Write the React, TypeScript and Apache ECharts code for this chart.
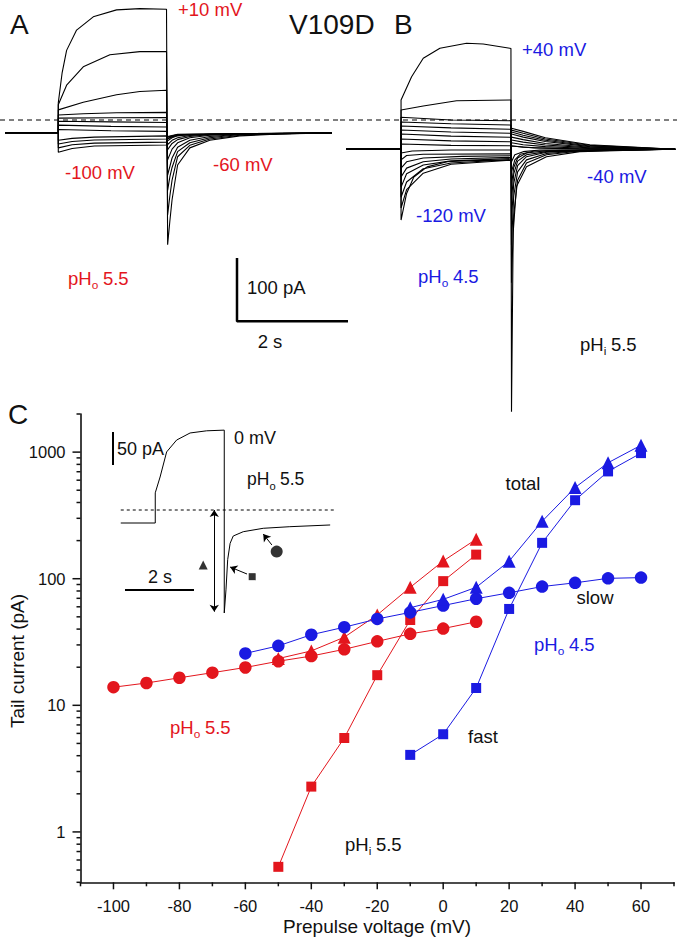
import React, { useEffect, useRef } from 'react';
import * as echarts from 'echarts';

const FONT = '"Liberation Sans", Arial, Helvetica, sans-serif';
const RED = '#e3161d';
const BLUE = '#1a1ae2';
const INK = '#111111';

// ---------------- Panel C : tail currents (pA) vs prepulse voltage (mV) ----------------
const voltsRedSlow = [-100, -90, -80, -70, -60, -50, -40, -30, -20, -10, 0, 10];
const redSlow = [13.9, 15.0, 16.5, 18.1, 19.9, 22.3, 24.5, 27.7, 32.0, 36.7, 40.4, 45.7];
const voltsRed = [-50, -40, -30, -20, -10, 0, 10];
const redTotal = [23.4, 26.9, 34.5, 51.8, 85.5, 138, 205];
const redFast = [0.53, 2.28, 5.52, 17.3, 47.2, 95.7, 155];
const voltsBlueSlow = [-60, -50, -40, -30, -20, -10, 0, 10, 20, 30, 40, 50, 60];
const blueSlow = [25.7, 29.5, 36.1, 41.4, 48.1, 54.2, 61.4, 69.5, 77.4, 86.7, 92.8, 100.7, 102];
const voltsBlue = [-10, 0, 10, 20, 30, 40, 50, 60];
const blueTotal = [59, 68.7, 85.5, 137.6, 284, 525, 824, 1133];
const blueFast = [4.06, 5.91, 13.7, 57.7, 192, 417, 704, 982];

const xTickLabels = [-100, -80, -60, -40, -20, 0, 20, 40, 60];
const xMinorTicks = [-110, -90, -70, -50, -30, -10, 10, 30, 50, 70];
const yTickLabels = [1, 10, 100, 1000];
const yMinorTicks = [0.4, 0.5, 0.6, 0.7, 0.8, 0.9, 2, 3, 4, 5, 6, 7, 8, 9, 20, 30, 40, 50, 60, 70, 80, 90,
  200, 300, 400, 500, 600, 700, 800, 900, 2000];

// ---------------- Panel A traces: [time (s), current (pA)] ----------------
const traceA_p10 = [[0.09, -20], [1.05, -20], [1.05, 27], [1.12, 75], [1.2, 110], [1.38, 142], [1.68, 163], [2.1, 174], [2.52, 176], [3.0, 175], [3.02, -197], [3.06, -160], [3.1, -126], [3.2, -71], [3.42, -44], [3.78, -32], [4.32, -25], [5.05, -22], [5.98, -20.5]];
const traceA_0 = [[0.09, -20], [1.05, -20], [1.05, 24], [1.2, 55], [1.5, 84], [1.98, 103], [2.52, 108], [3.0, 108], [3.02, -150], [3.06, -120], [3.1, -95], [3.2, -58], [3.42, -40], [3.78, -30], [4.32, -24], [5.05, -21.5], [5.98, -20.5]];
const traceA_m10 = [[0.09, -20], [1.05, -20], [1.05, 16], [1.5, 28], [2.1, 40], [2.52, 45], [3.0, 47], [3.02, -111], [3.06, -90], [3.1, -75], [3.2, -50], [3.42, -36], [3.78, -28], [4.32, -23], [5.05, -21], [5.98, -20.5]];
const traceA_m20 = [[0.09, -20], [1.05, -20], [1.05, 8], [1.5, 10], [2.1, 11.5], [3.0, 12], [3.02, -87], [3.1, -60], [3.2, -43], [3.42, -32], [3.78, -26], [4.32, -22.5], [5.98, -20.5]];
const traceA_m30 = [[0.09, -20], [1.05, -20], [1.05, 3], [2.0, 3.5], [3.0, 4], [3.02, -63], [3.1, -46], [3.2, -36], [3.42, -28], [3.78, -24], [4.32, -21.5], [5.98, -20.5]];
const traceA_m40 = [[0.09, -20], [1.05, -20], [1.05, -2], [2.0, -3], [3.0, -4], [3.02, -47], [3.1, -37], [3.2, -31], [3.42, -26], [3.78, -23], [5.98, -20.5]];
const traceA_m50 = [[0.09, -20], [1.05, -20], [1.05, -8], [2.0, -10], [3.0, -11], [3.02, -39], [3.1, -32], [3.2, -28], [3.42, -24.5], [3.78, -22], [5.98, -20.5]];
const traceA_m60 = [[0.09, -20], [1.05, -20], [1.05, -15], [2.0, -17], [3.0, -18], [3.02, -33], [3.1, -28], [3.2, -25], [3.42, -23], [5.98, -20.5]];
const traceA_m70 = [[0.09, -20], [1.05, -20], [1.05, -32], [1.3, -29], [1.7, -27], [3.0, -25], [3.02, -30], [3.1, -26], [3.3, -23], [5.98, -20.5]];
const traceA_m80 = [[0.09, -20], [1.05, -20], [1.05, -38], [1.3, -34], [1.7, -31.5], [3.0, -30], [3.02, -29], [3.2, -24], [5.98, -20.5]];
const traceA_m90 = [[0.09, -20], [1.05, -20], [1.05, -44], [1.3, -39], [1.7, -36.5], [3.0, -35], [3.02, -27], [3.2, -23], [5.98, -20.5]];
const traceA_m100 = [[0.09, -20], [1.05, -20], [1.05, -51], [1.3, -45], [1.7, -41], [3.0, -39.5], [3.02, -26], [3.2, -22.5], [5.98, -20.5]];
const tracesA = [traceA_p10, traceA_0, traceA_m10, traceA_m20, traceA_m30, traceA_m40, traceA_m50, traceA_m60, traceA_m70, traceA_m80, traceA_m90, traceA_m100];

// ---------------- Panel B traces: [time (s), current (pA)] ----------------
const traceB_p40 = [[0.11, -46.3], [1.1, -46.3], [1.1, 31.6], [1.29, 68.4], [1.5, 97.5], [1.8, 113.3], [2.28, 121.2], [2.58, 120], [3.06, 113.3], [3.08, 113], [3.09, -461], [3.12, -178.5], [3.18, -105], [3.36, -74], [3.72, -58], [4.32, -50], [5.41, -47.4], [6.04, -46.3]];
const traceB_p30 = [[0.11, -46.3], [1.1, -46.3], [1.1, 15.8], [1.5, 22.1], [2.1, 30.5], [3.08, 31.6], [3.09, -257], [3.13, -150], [3.2, -95], [3.36, -68], [3.72, -55], [4.32, -49], [5.41, -47], [6.04, -46.3]];
const traceB_p20 = [[0.11, -46.3], [1.1, -46.3], [1.1, 4.3], [2.0, 0], [3.08, -1.1], [3.09, -197], [3.13, -120], [3.2, -82], [3.36, -63], [3.72, -53], [4.32, -48.5], [6.04, -46.3]];
const traceB_p10 = [[0.11, -46.3], [1.1, -46.3], [1.1, -3.2], [2.0, -6], [3.08, -7.9], [3.09, -158], [3.13, -100], [3.2, -72], [3.36, -58], [3.72, -51], [4.32, -48], [6.04, -46.3]];
const traceB_0 = [[0.11, -46.3], [1.1, -46.3], [1.1, -9.5], [2.0, -12.5], [3.08, -14.7], [3.09, -126], [3.13, -85], [3.2, -65], [3.36, -55], [3.72, -50], [6.04, -46.3]];
const traceB_m10 = [[0.11, -46.3], [1.1, -46.3], [1.1, -15.8], [2.0, -19], [3.08, -21], [3.09, -103], [3.13, -75], [3.2, -60], [3.36, -52], [3.72, -48.5], [6.04, -46.3]];
const traceB_m20 = [[0.11, -46.3], [1.1, -46.3], [1.1, -22], [2.0, -25.5], [3.08, -27.3], [3.09, -82], [3.15, -63], [3.25, -54], [3.5, -49], [6.04, -46.3]];
const traceB_m30 = [[0.11, -46.3], [1.1, -46.3], [1.1, -30], [2.0, -33], [3.08, -34.3], [3.09, -66], [3.15, -55], [3.3, -50], [3.6, -47.5], [6.04, -46.3]];
const traceB_m40 = [[0.11, -46.3], [1.1, -46.3], [1.1, -38], [2.0, -40], [3.08, -40.6], [3.3, -43], [4.0, -45.5], [6.04, -46.3]];
const traceB_m50 = [[0.11, -46.3], [1.1, -46.3], [1.1, -52], [1.3, -49], [2.0, -47.5], [3.08, -47.4], [3.09, -41], [3.5, -44], [4.3, -45.5], [6.04, -46.3]];
const traceB_m60 = [[0.11, -46.3], [1.1, -46.3], [1.1, -63], [1.2, -56], [1.5, -54], [3.08, -53.5], [3.09, -36], [3.3, -39], [3.7, -42], [4.5, -45], [6.04, -46.3]];
const traceB_m70 = [[0.11, -46.3], [1.1, -46.3], [1.1, -76], [1.2, -66], [1.5, -60], [2.2, -57.5], [3.08, -56.5], [3.09, -31.5], [3.3, -35], [3.7, -39.5], [4.5, -44], [6.04, -46.3]];
const traceB_m80 = [[0.11, -46.3], [1.1, -46.3], [1.1, -90], [1.2, -76], [1.5, -66], [2.0, -61.5], [3.08, -59], [3.09, -27], [3.3, -31], [3.7, -37], [4.5, -43], [6.04, -46.3]];
const traceB_m90 = [[0.11, -46.3], [1.1, -46.3], [1.1, -106], [1.2, -85], [1.5, -71], [2.0, -64.5], [3.08, -61], [3.09, -22], [3.3, -27], [3.7, -34], [4.5, -42], [6.04, -46.3]];
const traceB_m100 = [[0.11, -46.3], [1.1, -46.3], [1.1, -122], [1.2, -98], [1.5, -77], [2.0, -68], [3.08, -62.5], [3.09, -19], [3.3, -24], [3.7, -32], [4.5, -41], [6.04, -46.3]];
const traceB_m110 = [[0.11, -46.3], [1.1, -46.3], [1.1, -139], [1.2, -110], [1.5, -84], [2.0, -70], [3.08, -63.5], [3.09, -16], [3.3, -21], [3.7, -30], [4.5, -40], [6.04, -46.3]];
const traceB_m120 = [[0.11, -46.3], [1.1, -46.3], [1.1, -158], [1.2, -116], [1.33, -90], [1.57, -74], [1.93, -66], [2.41, -64], [3.08, -64], [3.09, -13], [3.3, -18], [3.7, -28], [4.5, -39], [6.04, -46.3]];
const tracesB = [traceB_p40, traceB_p30, traceB_p20, traceB_p10, traceB_0, traceB_m10, traceB_m20, traceB_m30, traceB_m40,
  traceB_m50, traceB_m60, traceB_m70, traceB_m80, traceB_m90, traceB_m100, traceB_m110, traceB_m120];

// zero-current reference lines and scale bars (s, pA)
const zeroA = [[0, 0], [6.126, 0]];
const zeroB = [[0, 0], [6.072, 0]];
const scaleBarA = [[4.27, -218], [4.27, -318], [6.27, -318]];

// ---------------- Panel C inset trace (0 mV prepulse) ----------------
const insetTrace = [[0.1, -19.7], [1.1, -19.7], [1.1, 26], [1.24, 50], [1.43, 88], [1.72, 106], [2.11, 116.7], [2.59, 120], [3.1, 121],
  [3.1, -156], [3.15, -121], [3.2, -75], [3.27, -50.5], [3.36, -39.4], [3.65, -32.9], [4.23, -27.7], [5.0, -25.3], [6.17, -22.7]];
const insetZero = [[0.1, 0], [6.34, 0]];
const insetBarV = [[-0.125, 118.2], [-0.125, 68.2]];
const insetBarH = [[0.223, -121.2], [2.223, -121.2]];
const insetTriangle = [[2.49, -83.3]];
const insetSquare = [[3.91, -101]];
const insetCircle = [[4.62, -63]];
const arrowTotal = [[2.81, 0], [2.81, -154]];
const arrowFast = [[3.76, -97], [3.27, -86.4]];
const arrowSlow = [[4.48, -53], [4.23, -36.4]];

const zip = (xs: number[], ys: number[]) => xs.map((x, i) => [x, ys[i]]);

function txt(text: string, x: number, y: number, size: number, color = INK, align = 'left', extra: any = {}) {
  return {
    type: 'text', x, y, silent: true, ...extra,
    style: {
      text, fill: color, font: `${size}px ${FONT}`,
      textAlign: align, textVerticalAlign: 'middle', align, verticalAlign: 'middle',
    },
  };
}

function ph(x: number, y: number, sub: string, val: string, color: string, size = 18.5) {
  const subSize = size * 0.64;
  const subW = (sub === 'i' ? 0.222 : 0.556) * subSize;
  return {
    type: 'group', silent: true,
    children: [
      txt('pH', x, y, size, color),
      txt(sub, x + 1.29 * size, y + 0.4 * size, subSize, color),
      txt(val, x + 1.29 * size + subW + 0.24 * size, y, size, color),
    ],
  };
}

function markerSeries(xs: number[], ys: number[], color: string, symbol: string, size: number) {
  return {
    type: 'line', xAxisIndex: 0, yAxisIndex: 0, data: zip(xs, ys), symbol, symbolSize: size,
    itemStyle: { color, borderWidth: 0 }, lineStyle: { color, width: 1 }, silent: true, z: 3,
  };
}

function traceSeries(data: number[][], idx: number, width = 1.1) {
  return {
    type: 'line', xAxisIndex: idx, yAxisIndex: idx, data, symbol: 'none', silent: true,
    lineStyle: { color: '#000', width }, z: 2,
  };
}

function tickSeries(values: number[], horizontal: boolean, len: number) {
  return {
    type: 'custom', xAxisIndex: 0, yAxisIndex: 0, silent: true, clip: false, z: 4,
    data: values.map((v) => (horizontal ? [v, 0.4] : [-110, v])),
    encode: { x: 0, y: 1 },
    renderItem: (_p: any, api: any) => {
      const pt = api.coord([api.value(0), api.value(1)]);
      const shape = horizontal
        ? { x1: pt[0], y1: pt[1], x2: pt[0], y2: pt[1] + len }
        : { x1: pt[0] - len, y1: pt[1], x2: pt[0], y2: pt[1] };
      return { type: 'line', shape, style: { stroke: INK, lineWidth: 1.5 } };
    },
  };
}

export default function App() {
  const ref = useRef<HTMLDivElement>(null);
  useEffect(() => {
    if (!ref.current) return;
    const chart = echarts.init(ref.current, undefined, { renderer: 'svg' });
    const hidden = { show: false };
    const option: any = {
      animation: false,
      backgroundColor: '#ffffff',
      grid: [
        { left: 80.5, top: 414, width: 593.5, height: 468.3 },
        { left: 0, top: 6.06, width: 360, height: 329.2 },
        { left: 340, top: 6.06, width: 337, height: 417.8 },
        { left: 110.4, top: 424.2, width: 227.7, height: 198 },
      ],
      xAxis: [
        {
          gridIndex: 0, type: 'value', min: -110, max: 70, interval: 10,
          axisLine: { show: true, onZero: false, lineStyle: { color: INK, width: 1.6 } },
          axisTick: hidden, splitLine: hidden,
          axisLabel: {
            margin: 15, fontSize: 16.5, color: INK, fontFamily: FONT,
            formatter: (v: number) => (xTickLabels.includes(Math.round(v)) ? String(Math.round(v)) : ''),
          },
        },
        { gridIndex: 1, type: 'value', min: 0, max: 6.486, show: false },
        { gridIndex: 2, type: 'value', min: 0, max: 6.072, show: false },
        { gridIndex: 3, type: 'value', min: -0.2, max: 6.4, show: false },
      ],
      yAxis: [
        {
          gridIndex: 0, type: 'log', logBase: 10, min: 0.4, max: 2000,
          axisLine: { show: true, onZero: false, lineStyle: { color: INK, width: 1.6 } },
          axisTick: hidden, splitLine: hidden, minorTick: hidden, minorSplitLine: hidden,
          axisLabel: {
            margin: 15, fontSize: 16.5, color: INK, fontFamily: FONT,
            formatter: (v: number) => {
              const r = Math.round(v);
              return yTickLabels.includes(r) && Math.abs(v - r) < 1e-6 * Math.max(1, r) ? String(r) : '';
            },
          },
        },
        { gridIndex: 1, type: 'value', min: -340, max: 180, show: false },
        { gridIndex: 2, type: 'value', min: -480, max: 180, show: false },
        { gridIndex: 3, type: 'value', min: -170, max: 130, show: false },
      ],
      series: [
        // Panel A
        ...tracesA.map((d) => traceSeries(d, 1)),
        { type: 'line', xAxisIndex: 1, yAxisIndex: 1, data: zeroA, symbol: 'none', silent: true, lineStyle: { color: '#000', width: 1, type: [5, 4] } },
        { type: 'line', xAxisIndex: 1, yAxisIndex: 1, data: scaleBarA, symbol: 'none', silent: true, clip: false, lineStyle: { color: '#000', width: 2.5 } },
        // Panel B
        ...tracesB.map((d) => traceSeries(d, 2)),
        { type: 'line', xAxisIndex: 2, yAxisIndex: 2, data: zeroB, symbol: 'none', silent: true, lineStyle: { color: '#000', width: 1, type: [5, 4] } },
        // Panel C inset
        {
          type: 'line', xAxisIndex: 3, yAxisIndex: 3, data: insetTrace, symbol: 'none', silent: true,
          lineStyle: { color: '#000', width: 1 },
          markLine: {
            silent: true, symbolSize: 7, label: { show: false }, emphasis: { disabled: true },
            lineStyle: { color: '#000', width: 1, type: 'solid' },
            data: [
              [{ coord: arrowTotal[0], symbol: 'arrow' }, { coord: arrowTotal[1], symbol: 'arrow' }],
              [{ coord: arrowFast[0], symbol: 'none' }, { coord: arrowFast[1], symbol: 'arrow' }],
              [{ coord: arrowSlow[0], symbol: 'none' }, { coord: arrowSlow[1], symbol: 'arrow' }],
            ],
          },
        },
        { type: 'line', xAxisIndex: 3, yAxisIndex: 3, data: insetZero, symbol: 'none', silent: true, lineStyle: { color: '#000', width: 1, type: [3, 3] } },
        { type: 'line', xAxisIndex: 3, yAxisIndex: 3, data: insetBarV, symbol: 'none', silent: true, clip: false, lineStyle: { color: '#000', width: 2 } },
        { type: 'line', xAxisIndex: 3, yAxisIndex: 3, data: insetBarH, symbol: 'none', silent: true, clip: false, lineStyle: { color: '#000', width: 2 } },
        { type: 'scatter', xAxisIndex: 3, yAxisIndex: 3, data: insetTriangle, symbol: 'triangle', symbolSize: 9, itemStyle: { color: '#000' }, silent: true },
        { type: 'scatter', xAxisIndex: 3, yAxisIndex: 3, data: insetSquare, symbol: 'rect', symbolSize: 7, itemStyle: { color: '#000' }, silent: true },
        { type: 'scatter', xAxisIndex: 3, yAxisIndex: 3, data: insetCircle, symbol: 'circle', symbolSize: 12, itemStyle: { color: '#000' }, silent: true },
        // Panel C axis ticks
        tickSeries(xTickLabels, true, 7),
        tickSeries(xMinorTicks, true, 4),
        tickSeries(yTickLabels, false, 8),
        tickSeries(yMinorTicks, false, 4),
        // Panel C data
        markerSeries(voltsRedSlow, redSlow, RED, 'circle', 12.5),
        markerSeries(voltsRed, redTotal, RED, 'triangle', 13),
        markerSeries(voltsRed, redFast, RED, 'rect', 10),
        markerSeries(voltsBlueSlow, blueSlow, BLUE, 'circle', 12.5),
        markerSeries(voltsBlue, blueTotal, BLUE, 'triangle', 13),
        markerSeries(voltsBlue, blueFast, BLUE, 'rect', 10),
      ],
      graphic: {
        elements: [
          txt('A', 10, 24, 28),
          txt('V109D', 289, 24, 28),
          txt('B', 394, 24, 28),
          txt('C', 8, 414, 28),
          txt('+10 mV', 178, 9, 18.5, RED),
          txt('-100 mV', 65, 172, 18.5, RED),
          txt('-60 mV', 213, 164, 18.5, RED),
          ph(68, 278, 'o', '5.5', RED),
          txt('100 pA', 247, 287, 18.5),
          txt('2 s', 270, 341, 18.5, INK, 'center'),
          txt('+40 mV', 522, 49, 18.5, BLUE),
          txt('-40 mV', 587, 176, 18.5, BLUE),
          txt('-120 mV', 416, 215, 18.5, BLUE),
          ph(418, 276, 'o', '4.5', BLUE),
          ph(580, 344, 'i', '5.5', INK),
          // panel C annotations
          txt('total', 523, 483, 18.5, INK, 'center'),
          txt('slow', 595, 597, 18.5, INK, 'center'),
          txt('fast', 483, 736, 18.5, INK, 'center'),
          ph(170, 727, 'o', '5.5', RED),
          ph(534, 644, 'o', '4.5', BLUE),
          ph(345, 844, 'i', '5.5', INK),
          // inset
          txt('0 mV', 234, 438, 18),
          txt('50 pA', 117, 449, 18),
          txt('2 s', 160, 577, 18, INK, 'center'),
          ph(247, 479, 'o', '5.5', INK, 17.5),
          // axis names
          txt('Prepulse voltage (mV)', 377, 926, 19, INK, 'center'),
          txt('Tail current (pA)', 17, 661, 19, INK, 'center', { rotation: Math.PI / 2 }),
        ],
      },
    };
    chart.setOption(option);
    return () => chart.dispose();
  }, []);
  return (
    <div
      ref={ref}
      style={{ position: 'absolute', left: 0, top: 0, width: 677, height: 939, background: '#fff' }}
    />
  );
}
